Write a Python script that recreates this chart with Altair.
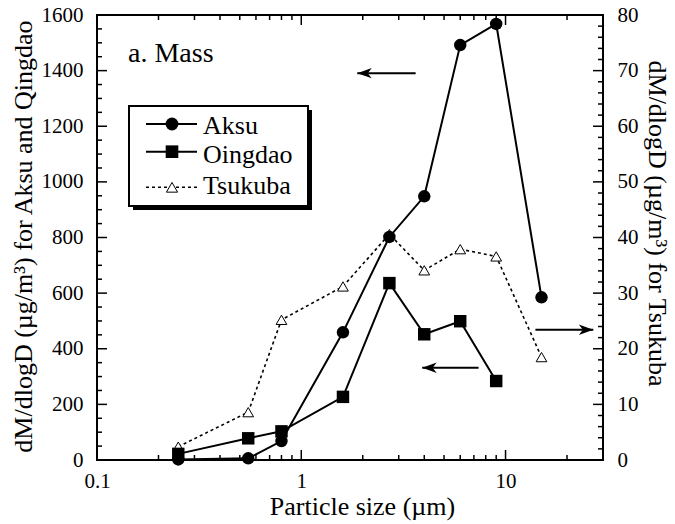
import altair as alt
import pandas as pd

# ---------------- data ----------------
aksu_size = [0.25, 0.55, 0.8, 1.6, 2.7, 4.0, 6.0, 9.0, 15.0]
aksu_val = [2, 6, 68, 459, 802, 948, 1492, 1568, 585]

qingdao_size = [0.25, 0.55, 0.8, 1.6, 2.7, 4.0, 6.0, 9.0]
qingdao_val = [22, 78, 103, 227, 636, 452, 499, 284]

tsukuba_size = [0.25, 0.55, 0.8, 1.6, 2.7, 4.0, 6.0, 9.0, 15.0]
tsukuba_val = [2.4, 8.6, 25.2, 31.2, 40.6, 34.1, 37.9, 36.6, 18.5]

# annotation arrows (x from -> x to, at a left-axis height)
arrow_left_from = [3.63, 7.38]
arrow_left_to = [1.88, 3.91]
arrow_left_y = [1391, 332]
arrow_right_from = [14.0]
arrow_right_to = [26.9]
arrow_right_y = [468]

# axis tick values
x_major = [1, 10]
x_minor = [0.2, 0.3, 0.4, 0.5, 0.6, 0.7, 0.8, 0.9, 2, 3, 4, 5, 6, 7, 8, 9, 20]
yl_major = [200, 400, 600, 800, 1000, 1200, 1400]
yl_minor = [v for v in range(50, 1600, 50) if v % 200 != 0]
yr_major = [10, 20, 30, 40, 50, 60, 70]
yr_minor = [v for v in range(2, 80, 2) if v % 10 != 0]

legend_names = ["Aksu", "Oingdao", "Tsukuba"]

# ---------------- styling ----------------
FONT = "Liberation Serif"
W, H = 506, 445

x_scale = alt.Scale(type="log", domain=[0.1, 30])
x_axis = alt.Axis(values=[0.1, 1, 10], format="~g", title="Particle size (µm)",
                  grid=False, domain=False, ticks=False, tickSize=0,
                  labelPadding=27, labelBaseline="alphabetic", labelFontSize=21,
                  labelFont=FONT, titleFont=FONT,
                  labelFlush=False, titleFontSize=26, titleX=265, titleY=54,
                  titleBaseline="alphabetic", titleAlign="center")

yl_scale = alt.Scale(domain=[0, 1600], nice=False)
yl_axis = alt.Axis(values=list(range(0, 1601, 200)), format="d", orient="left",
                   title="dM/dlogD (µg/m³) for Aksu and Qingdao",
                   grid=False, domain=False, ticks=False, tickSize=0,
                   labelFont=FONT, titleFont=FONT,
                   labelPadding=14, labelFontSize=21, labelFlush=False,
                   titleFontSize=26, titleX=-74, titleY=221, titleAngle=270,
                   titleBaseline="middle", titleAlign="center")

yr_scale = alt.Scale(domain=[0, 80], nice=False)
yr_axis = alt.Axis(values=list(range(0, 81, 10)), format="d", orient="right",
                   title="dM/dlogD (µg/m³) for Tsukuba",
                   grid=False, domain=False, ticks=False, tickSize=0,
                   labelFont=FONT, titleFont=FONT,
                   labelPadding=14, labelFontSize=21, labelFlush=False,
                   titleFontSize=26, titleX=53, titleY=208, titleAngle=90,
                   titleBaseline="middle", titleAlign="center")


def X(f):
    return alt.X(f, type="quantitative", scale=x_scale, axis=x_axis)


def YL(f):
    return alt.Y(f, type="quantitative", scale=yl_scale, axis=yl_axis)


def YR(f):
    return alt.Y(f, type="quantitative", scale=yr_scale, axis=yr_axis)


# ---------------- tables ----------------
df_left = pd.concat([
    pd.DataFrame({"series": "Aksu", "size": aksu_size, "value": aksu_val}),
    pd.DataFrame({"series": "Qingdao", "size": qingdao_size, "value": qingdao_val}),
])
df_tsu = pd.DataFrame({"size": tsukuba_size, "value": tsukuba_val})
df_arr_l = pd.DataFrame({"x0": arrow_left_from, "x1": arrow_left_to, "y": arrow_left_y})
df_arr_r = pd.DataFrame({"x0": arrow_right_from, "x1": arrow_right_to, "y": arrow_right_y})
one = pd.DataFrame({"d": [0]})

HEAD = "M0,0 L-1,-0.36 L-0.72,0 L-1,0.36 Z"

# ---------------- left group ----------------
tick_layers = []
for vals, ln in [(x_major, 10), (x_minor, 5)]:
    d = pd.DataFrame({"t": vals})
    tick_layers.append(alt.Chart(d).mark_rule(color="black", strokeWidth=1.5).encode(
        x=X("t"), y=alt.value(H), y2=alt.value(H - ln)))
    tick_layers.append(alt.Chart(d).mark_rule(color="black", strokeWidth=1.5).encode(
        x=X("t"), y=alt.value(0), y2=alt.value(ln)))
for vals, ln in [(yl_major, 10), (yl_minor, 5)]:
    d = pd.DataFrame({"v": vals})
    tick_layers.append(alt.Chart(d).mark_rule(color="black", strokeWidth=1.5).encode(
        y=YL("v"), x=alt.value(0), x2=alt.value(ln)))

left_line = alt.Chart(df_left).mark_line(color="black", strokeWidth=2).encode(
    x=X("size"), y=YL("value"), detail="series:N")
left_pts = alt.Chart(df_left).mark_point(filled=True, color="black", opacity=1, size=155).encode(
    x=X("size"), y=YL("value"),
    shape=alt.Shape("series:N", scale=alt.Scale(domain=["Aksu", "Qingdao"], range=["circle", "square"]),
                    legend=None))

arr_l_shaft = alt.Chart(df_arr_l).mark_rule(color="black", strokeWidth=2).encode(
    x=X("x0"), x2="x1:Q", y=YL("y"))
arr_l_head = alt.Chart(df_arr_l).mark_point(shape=HEAD, filled=True, color="black", opacity=1,
                                            size=840, angle=180).encode(x=X("x1"), y=YL("y"))
arr_r_shaft = alt.Chart(df_arr_r).mark_rule(color="black", strokeWidth=2).encode(
    x=X("x0"), x2="x1:Q", y=YL("y"))
arr_r_head = alt.Chart(df_arr_r).mark_point(shape=HEAD, filled=True, color="black", opacity=1,
                                            size=840, angle=0).encode(x=X("x1"), y=YL("y"))

left = alt.layer(*tick_layers, left_line, left_pts, arr_l_shaft, arr_l_head, arr_r_shaft, arr_r_head)

# ---------------- right group ----------------
rticks = []
for vals, ln in [(yr_major, 10), (yr_minor, 5)]:
    d = pd.DataFrame({"v": vals})
    rticks.append(alt.Chart(d).mark_rule(color="black", strokeWidth=1.5).encode(
        y=YR("v"), x=alt.value(W - ln), x2=alt.value(W)))

tsu_line = alt.Chart(df_tsu).mark_line(color="black", strokeWidth=1.6, strokeDash=[3, 3]).encode(
    x=X("size"), y=YR("value"))
tsu_pts = alt.Chart(df_tsu).mark_point(shape="triangle-up", filled=True, fill="white", stroke="black",
                                       strokeWidth=1, size=115, opacity=1).encode(
    x=X("size"), y=YR("value"))

right = alt.layer(*rticks, tsu_line, tsu_pts)

# ---------------- decorations: panel label and legend ----------------
deco = []
deco.append(alt.Chart(one).mark_text(text="a. Mass", align="left", baseline="alphabetic",
                                     fontSize=28, font=FONT, color="black").encode(
    x=alt.value(31), y=alt.value(47)))
deco.append(alt.Chart(one).mark_rect(color="black").encode(
    x=alt.value(36), x2=alt.value(215), y=alt.value(95), y2=alt.value(195)))
deco.append(alt.Chart(one).mark_rect(fill="white", stroke="black", strokeWidth=2).encode(
    x=alt.value(32), x2=alt.value(211), y=alt.value(91), y2=alt.value(191)))

leg_rows = [
    (legend_names[0], 109, 119.3, "circle", None, 165),
    (legend_names[1], 136.7, 147.6, "square", None, 160),
    (legend_names[2], 172.3, 179.3, "triangle-up", [3, 3], 125),
]
for name, ly, ty, shp, dash, sz in leg_rows:
    if dash:
        deco.append(alt.Chart(one).mark_rule(color="black", strokeWidth=1.6, strokeDash=dash).encode(
            x=alt.value(49), x2=alt.value(100), y=alt.value(ly)))
        deco.append(alt.Chart(one).mark_point(shape=shp, filled=True, fill="white", stroke="black",
                                              strokeWidth=1, size=sz, opacity=1).encode(
            x=alt.value(75), y=alt.value(ly)))
    else:
        deco.append(alt.Chart(one).mark_rule(color="black", strokeWidth=2).encode(
            x=alt.value(49), x2=alt.value(100), y=alt.value(ly)))
        deco.append(alt.Chart(one).mark_point(shape=shp, filled=True, color="black",
                                              size=sz, opacity=1).encode(
            x=alt.value(75), y=alt.value(ly)))
    deco.append(alt.Chart(one).mark_text(text=name, align="left", baseline="alphabetic",
                                         fontSize=26, font=FONT, color="black").encode(
        x=alt.value(106), y=alt.value(ty)))

chart = alt.layer(right, left, *deco).resolve_scale(y="independent").properties(
    width=W, height=H,
    autosize=alt.AutoSizeParams(type="none"),
    padding={"left": 97, "top": 15, "right": 72, "bottom": 64},
    background="white",
).configure_view(stroke="black", strokeWidth=2).configure_axis(
    labelFont=FONT, titleFont=FONT, labelColor="black", titleColor="black", titleFontWeight="normal"
).configure_text(font=FONT)

chart.save("out.html", embed_options={"renderer": "svg", "actions": False})
